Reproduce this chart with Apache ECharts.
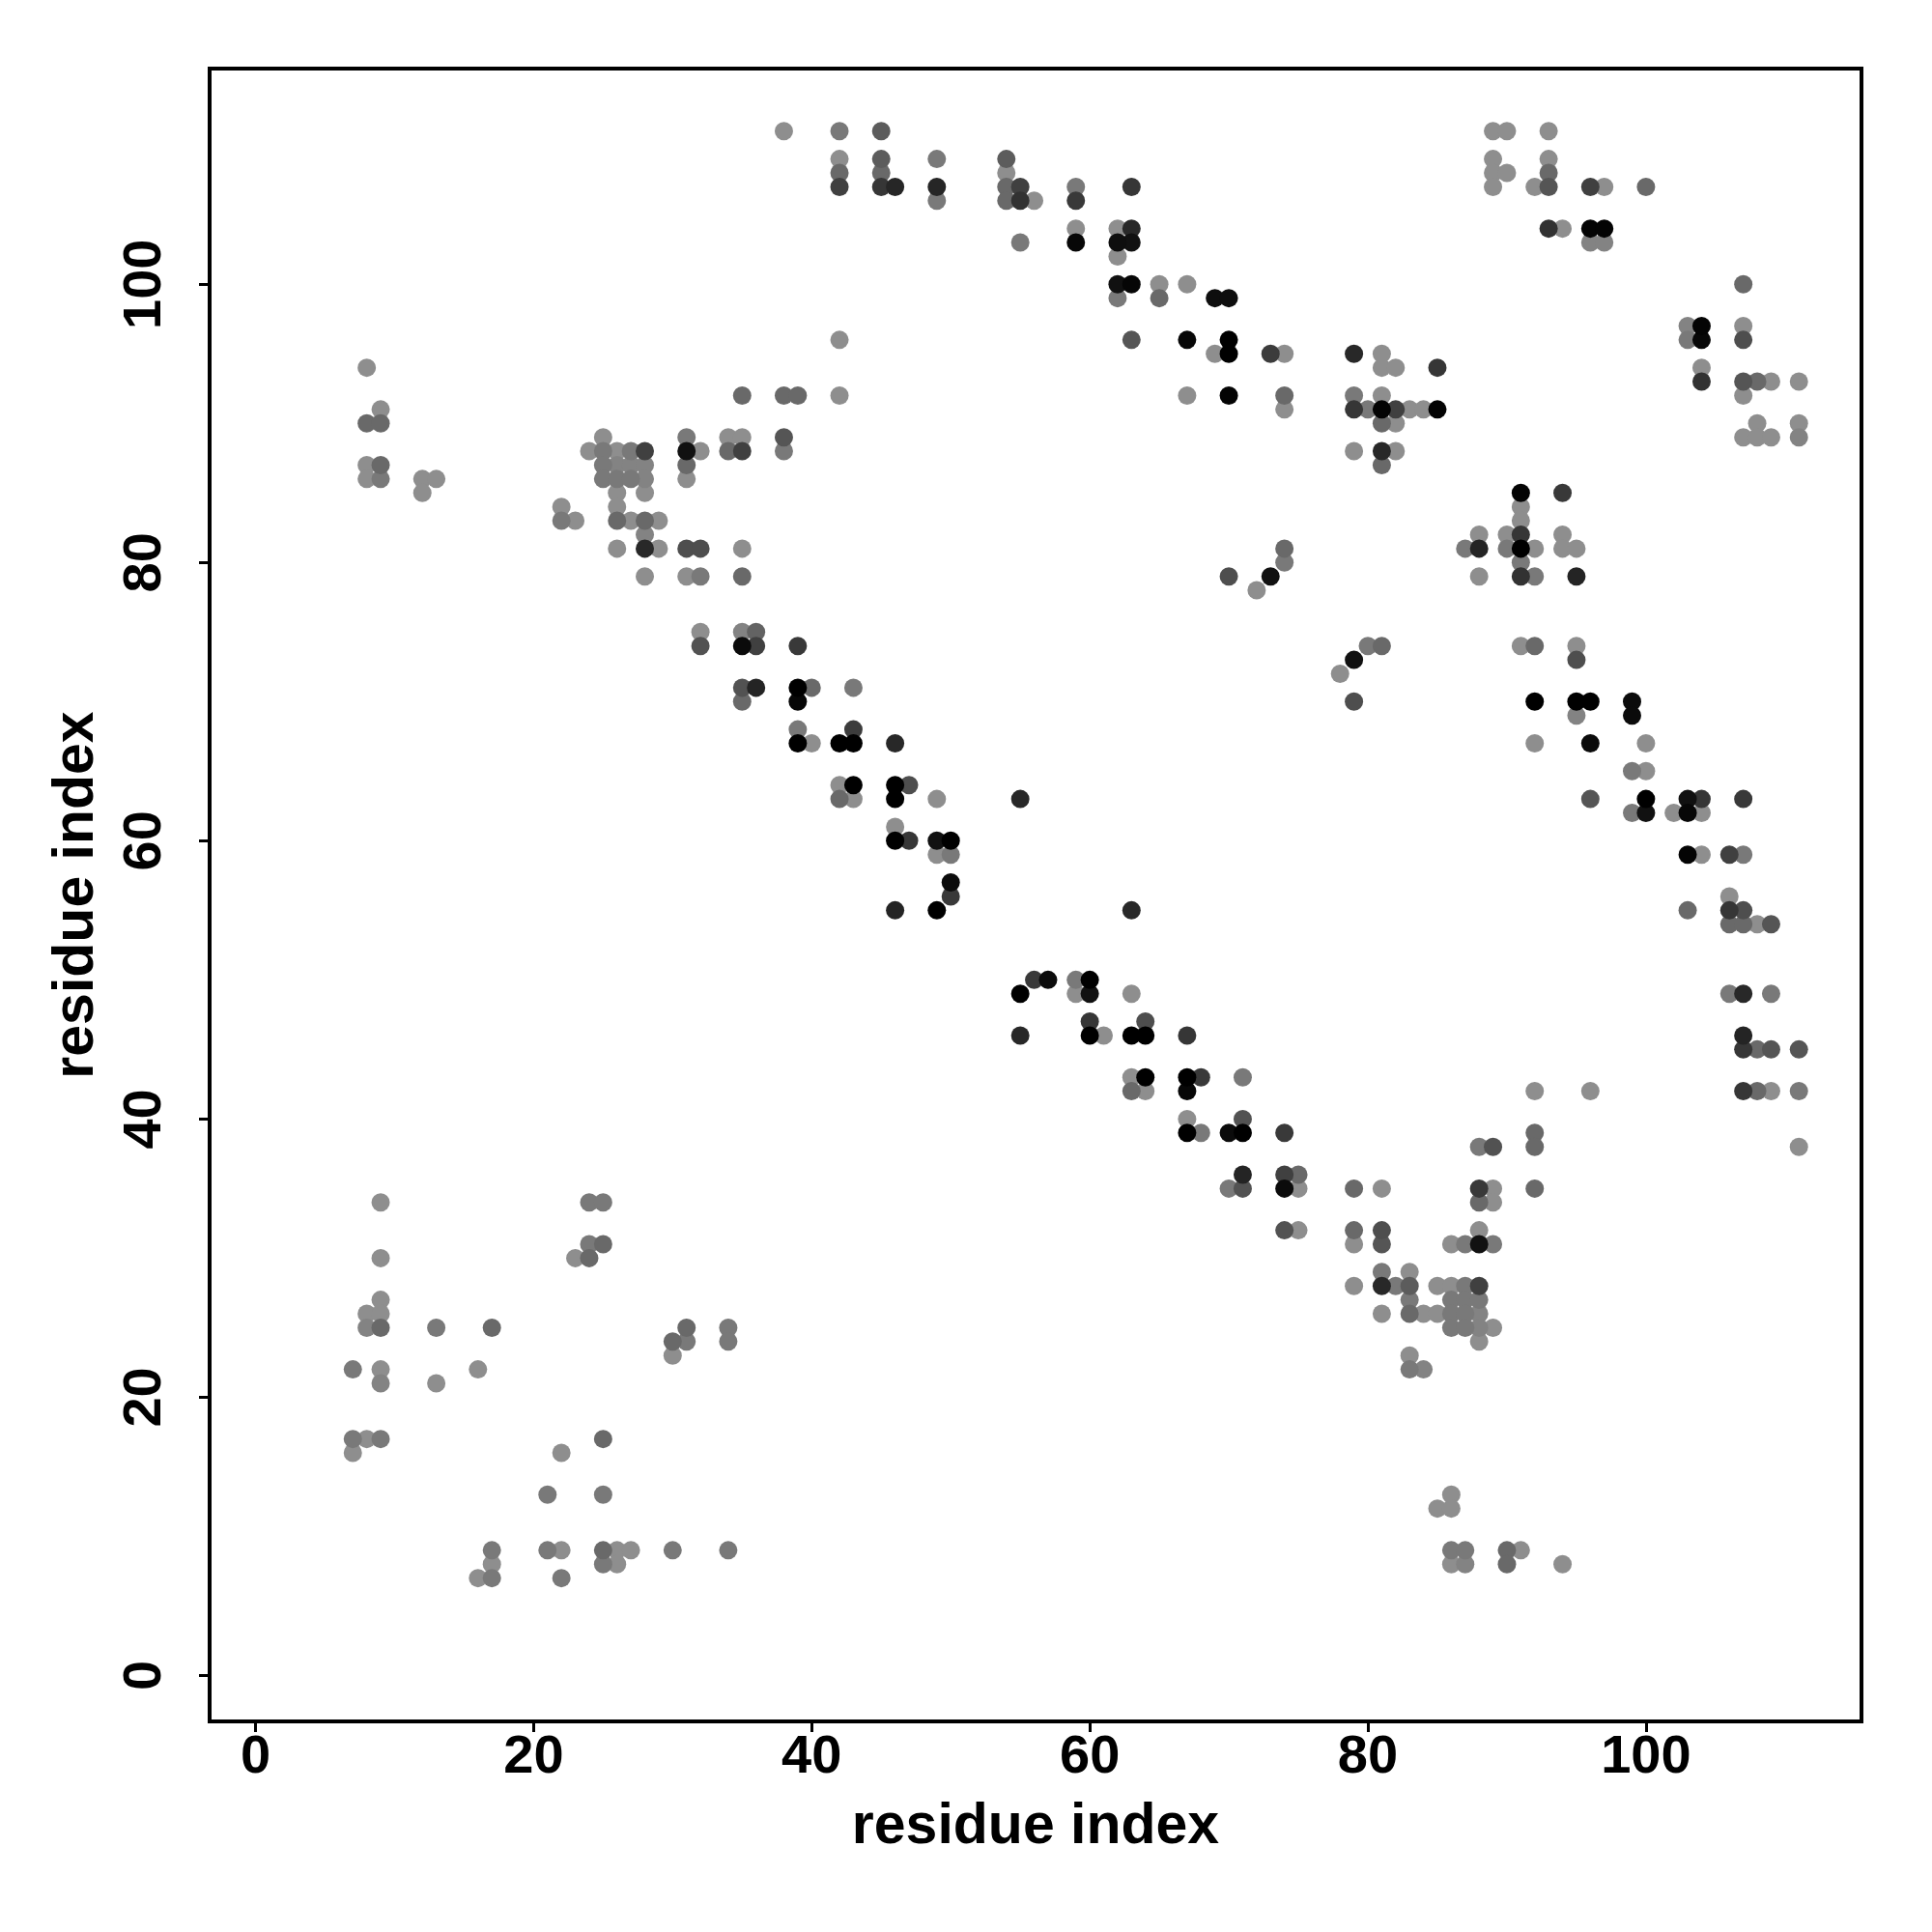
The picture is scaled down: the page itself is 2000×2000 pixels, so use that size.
<!DOCTYPE html>
<html>
<head>
<meta charset="utf-8">
<script src="https://cdn.jsdelivr.net/npm/echarts@6/dist/echarts.min.js"></script>
<style>html,body{margin:0;padding:0;background:#fff;}#chart{width:2000px;height:2000px;}</style>
</head>
<body>
<div id="chart"></div>
<script>
// residue i (x), residue j (y), contact score (0 = weak/light gray, 1 = strong/black)
const resX = [
38,8,9,8,9,8,9,35,38,39,25,24,25,26,27,28,25,26,27,28,31,31,32,31,34,35,34,35,38,38,
42,45,42,42,42,45,45,45,46,49,49,49,54,54,54,55,54,55,56,59,59,63,55,59,59,62,63,62,63,62,
62,63,65,67,62,65,69,70,42,63,67,70,69,70,73,74,42,67,70,74,74,
89,90,93,89,89,90,89,93,93,92,93,96,97,100,93,94,96,97,96,97,107,103,104,103,104,107,107,104,104,107,
108,109,111,107,108,107,108,109,111,111,79,81,81,82,85,79,81,79,80,81,82,83,84,85,81,82,79,81,82,81,
8,9,12,13,12,22,22,23,25,26,27,28,31,26,28,26,26,27,28,29,28,26,28,29,31,32,35,28,31,32,
35,32,32,35,36,35,36,39,35,36,35,39,40,39,39,39,40,
70,72,73,74,74,43,43,42,43,46,42,43,42,43,46,47,46,49,55,46,
46,47,49,50,49,50,50,50,46,49,63,56,57,55,59,60,59,60,63,55,60,60,61,63,64,64,67,63,64,63,
64,67,68,67,71,67,67,68,70,71,71,74,71,70,71,74,75,74,75,
91,94,91,91,88,90,91,94,87,88,90,91,92,94,95,91,88,91,92,95,80,81,79,78,79,91,92,95,95,92,
95,96,99,95,99,92,96,100,99,100,96,100,103,104,107,99,100,102,103,104,
103,104,106,107,106,103,106,107,106,107,108,109,106,107,109,107,107,108,109,111,92,96,107,108,109,111,92,92,88,89,
111,79,81,88,89,92,
9,24,25,9,24,25,23,24,9,8,9,8,9,13,17,7,9,9,13,16,7,8,9,7,31,30,31,30,34,34,
25,22,21,25,17,21,22,25,26,27,30,34,17,16,17,22,25,26,
74,75,
88,89,79,81,79,81,88,86,87,88,89,81,83,79,81,82,83,85,86,87,88,83,86,87,88,81,83,84,85,86,
87,88,86,87,88,89,88,83,83,84,86,85,86,86,87,90,91,86,87,90,94
];
const resY = [
111,94,91,90,90,87,87,92,92,92,89,88,88,88,88,88,87,87,87,87,89,88,88,87,89,89,88,88,89,88,
111,111,109,108,107,109,108,107,107,109,107,106,109,108,107,107,106,106,106,107,106,107,103,104,103,104,104,103,103,102,
100,100,100,100,99,99,99,99,96,96,96,96,95,95,95,95,92,92,92,92,91,
111,111,111,109,108,108,107,109,108,107,107,107,107,107,104,104,104,104,103,103,100,97,97,96,96,97,96,94,93,93,
93,93,93,92,90,89,89,89,90,89,95,95,94,94,94,92,92,91,91,91,91,91,91,91,90,90,88,88,88,87,
86,86,86,86,85,84,83,83,86,86,86,86,86,85,85,84,83,83,83,83,82,81,81,81,81,81,81,79,79,79,
79,75,74,75,75,74,74,74,71,71,70,71,71,70,68,67,67,
79,78,79,81,80,71,68,67,67,67,64,64,63,63,64,64,63,63,63,61,
60,60,60,60,59,59,57,56,55,55,55,50,50,49,50,50,49,49,49,46,47,46,46,46,47,46,46,43,43,42,
42,43,43,42,43,40,39,39,39,39,40,39,36,35,35,36,36,35,35,
85,85,84,83,82,82,82,82,81,81,81,81,81,81,81,80,79,79,79,79,74,74,73,72,70,74,74,74,73,70,
70,70,70,69,69,67,67,67,65,65,63,63,63,63,63,62,62,62,62,62,
59,59,59,59,56,55,55,55,54,54,54,54,49,49,49,46,45,45,45,45,42,42,42,42,42,42,39,38,38,38,
38,35,35,35,35,35,
34,34,34,30,31,31,30,30,27,26,26,25,25,25,25,22,22,21,21,22,17,17,17,16,25,24,24,23,25,24,
17,16,13,13,9,9,9,9,9,9,9,9,8,7,7,7,8,8,
32,32,
34,34,32,32,31,31,32,31,31,31,31,29,29,28,28,28,28,28,28,28,28,27,27,27,27,26,26,26,26,26,
26,26,25,25,25,25,24,23,22,22,13,12,12,9,9,9,9,8,8,8,8
];
const score = [
0,0,0,0.26,0.26,0,0.26,0.26,0.26,0.26,0,0,0.15,0,0.15,0.55,0.15,0.08,0.08,0.08,0.15,0.88,0,0.26,0,0,0.26,0.55,0.4,0.15,
0.15,0.35,0,0.26,0.55,0.35,0.26,0.62,0.73,0.15,0.73,0.15,0.35,0,0.26,0.55,0.26,0.65,0,0.15,0.6,0.62,0.15,0,0.95,0,0.72,0.9,0.88,0,
0.88,0.96,0,0,0.15,0.26,0.9,0.9,0,0.4,0.95,1,0,1,0.58,0,0,0,0.97,0.26,0,
0,0,0,0,0,0,0,0,0.26,0,0.4,0.55,0,0.26,0.65,0,0.97,0.97,0.08,0.08,0.26,0.08,0.97,0.15,0.95,0,0.45,0,0.65,0.4,
0.26,0,0,0,0,0,0,0,0,0.08,0.72,0,0,0,0.62,0.15,0,0.62,0.15,0.97,0.55,0,0,0.98,0.26,0,0,0.72,0,0.26,
0,0.15,0,0,0,0,0.15,0,0.15,0.15,0.15,0.08,0,0,0,0,0.26,0,0.26,0,0.08,0,0.72,0,0.45,0.45,0,0,0,0.15,
0.26,0,0.42,0.08,0.3,0.92,0.55,0.6,0.42,0.75,0.26,1,0.26,0.95,0.15,1,0,
0.45,0,0.88,0.26,0.15,0.15,0.58,1,1,0.72,0,1,0.26,0,1,0.45,1,0,0.72,0,
1,0.62,0.88,1,0,0.15,0.92,0.6,0.75,1,0.72,0.6,0.92,1,0.15,1,0,0.88,0,0.72,0.62,1,0,1,0.45,1,0.62,0,1,0.26,
0,1,0.6,0.95,0.15,0,1,0.15,0.92,1,0.42,0.6,0.75,0.15,0.42,0.55,0.26,0.92,0,
0.97,0.6,0,0,0,0,0.62,0,0.15,0.75,0.15,1,0,0,0,0.15,0,0.65,0.15,0.75,0.15,0.26,0.88,0,0.45,0,0.26,0,0.45,1,
1,1,0.92,0.08,0.92,0,0.92,0,0.15,0,0.4,1,0.88,0.62,0.6,0.15,0.88,0,0.95,0,
0.97,0,0.55,0.15,0,0.26,0.62,0.45,0.26,0.26,0,0.4,0.15,0.72,0.15,0.75,0.62,0.26,0.4,0.4,0,0,0.62,0.26,0,0.15,0.26,0.26,0.15,0.42,
0,0.26,0,0.6,0,0.26,
0,0.15,0.15,0,0.15,0.26,0,0.26,0,0,0,0.08,0.26,0.15,0.26,0.15,0,0.08,0,0,0.15,0,0.15,0,0.26,0.26,0.15,0,0.15,0.15,
0.26,0,0.15,0.15,0.15,0.15,0,0.26,0,0,0.15,0.15,0,0,0.15,0.15,0.15,0,
0.42,0,
0.26,0,0.26,0.45,0,0.4,0,0,0.15,0.88,0.15,0.15,0,0,0.72,0.15,0.35,0,0,0.15,0.55,0.15,0.15,0.15,0.15,0,0.26,0,0,0.15,
0.15,0.08,0.15,0.15,0.08,0,0,0,0.15,0.08,0,0,0,0.15,0.15,0.26,0,0,0.08,0.26,0
];
const tickValues = [0, 20, 40, 60, 80, 100];
const axisTitle = 'residue index';

const points = resX.map((x, i) => [x, resY[i], score[i]]).sort((a, b) => a[2] - b[2]);

const font = 'Liberation Sans, Arial, Helvetica, sans-serif';
function axisCommon(rotate, margin, gap) {
  return {
    type: 'value', min: -3.3, max: 115.5,
    name: axisTitle, nameLocation: 'middle', nameGap: gap,
    nameTextStyle: { fontSize: 59, fontWeight: 'bold', color: '#000', fontFamily: font, lineHeight: 59 },
    axisLine: { show: false, onZero: false },
    splitLine: { show: false },
    axisTick: { show: true, inside: false, length: 11, customValues: tickValues, lineStyle: { color: '#000', width: 3 } },
    axisLabel: { customValues: tickValues, rotate: rotate, margin: margin, fontSize: 56, fontWeight: 'bold', color: '#000', fontFamily: font, lineHeight: 56 }
  };
}

const chart = echarts.init(document.getElementById('chart'), null, { renderer: 'canvas' });
chart.setOption({
  backgroundColor: '#fff',
  animation: false,
  grid: { left: 217, top: 71, width: 1710, height: 1711, show: true, borderColor: '#000', borderWidth: 4, backgroundColor: 'transparent' },
  xAxis: axisCommon(0, 10, 80),
  yAxis: axisCommon(90, 38, 108),
  visualMap: { show: false, type: 'continuous', dimension: 2, min: 0, max: 1, inRange: { color: ['#8e8e8e', '#000000'] } },
  series: [{ type: 'scatter', data: points, symbol: 'circle', symbolSize: 19, itemStyle: { opacity: 1 } }]
});
</script>
</body>
</html>
